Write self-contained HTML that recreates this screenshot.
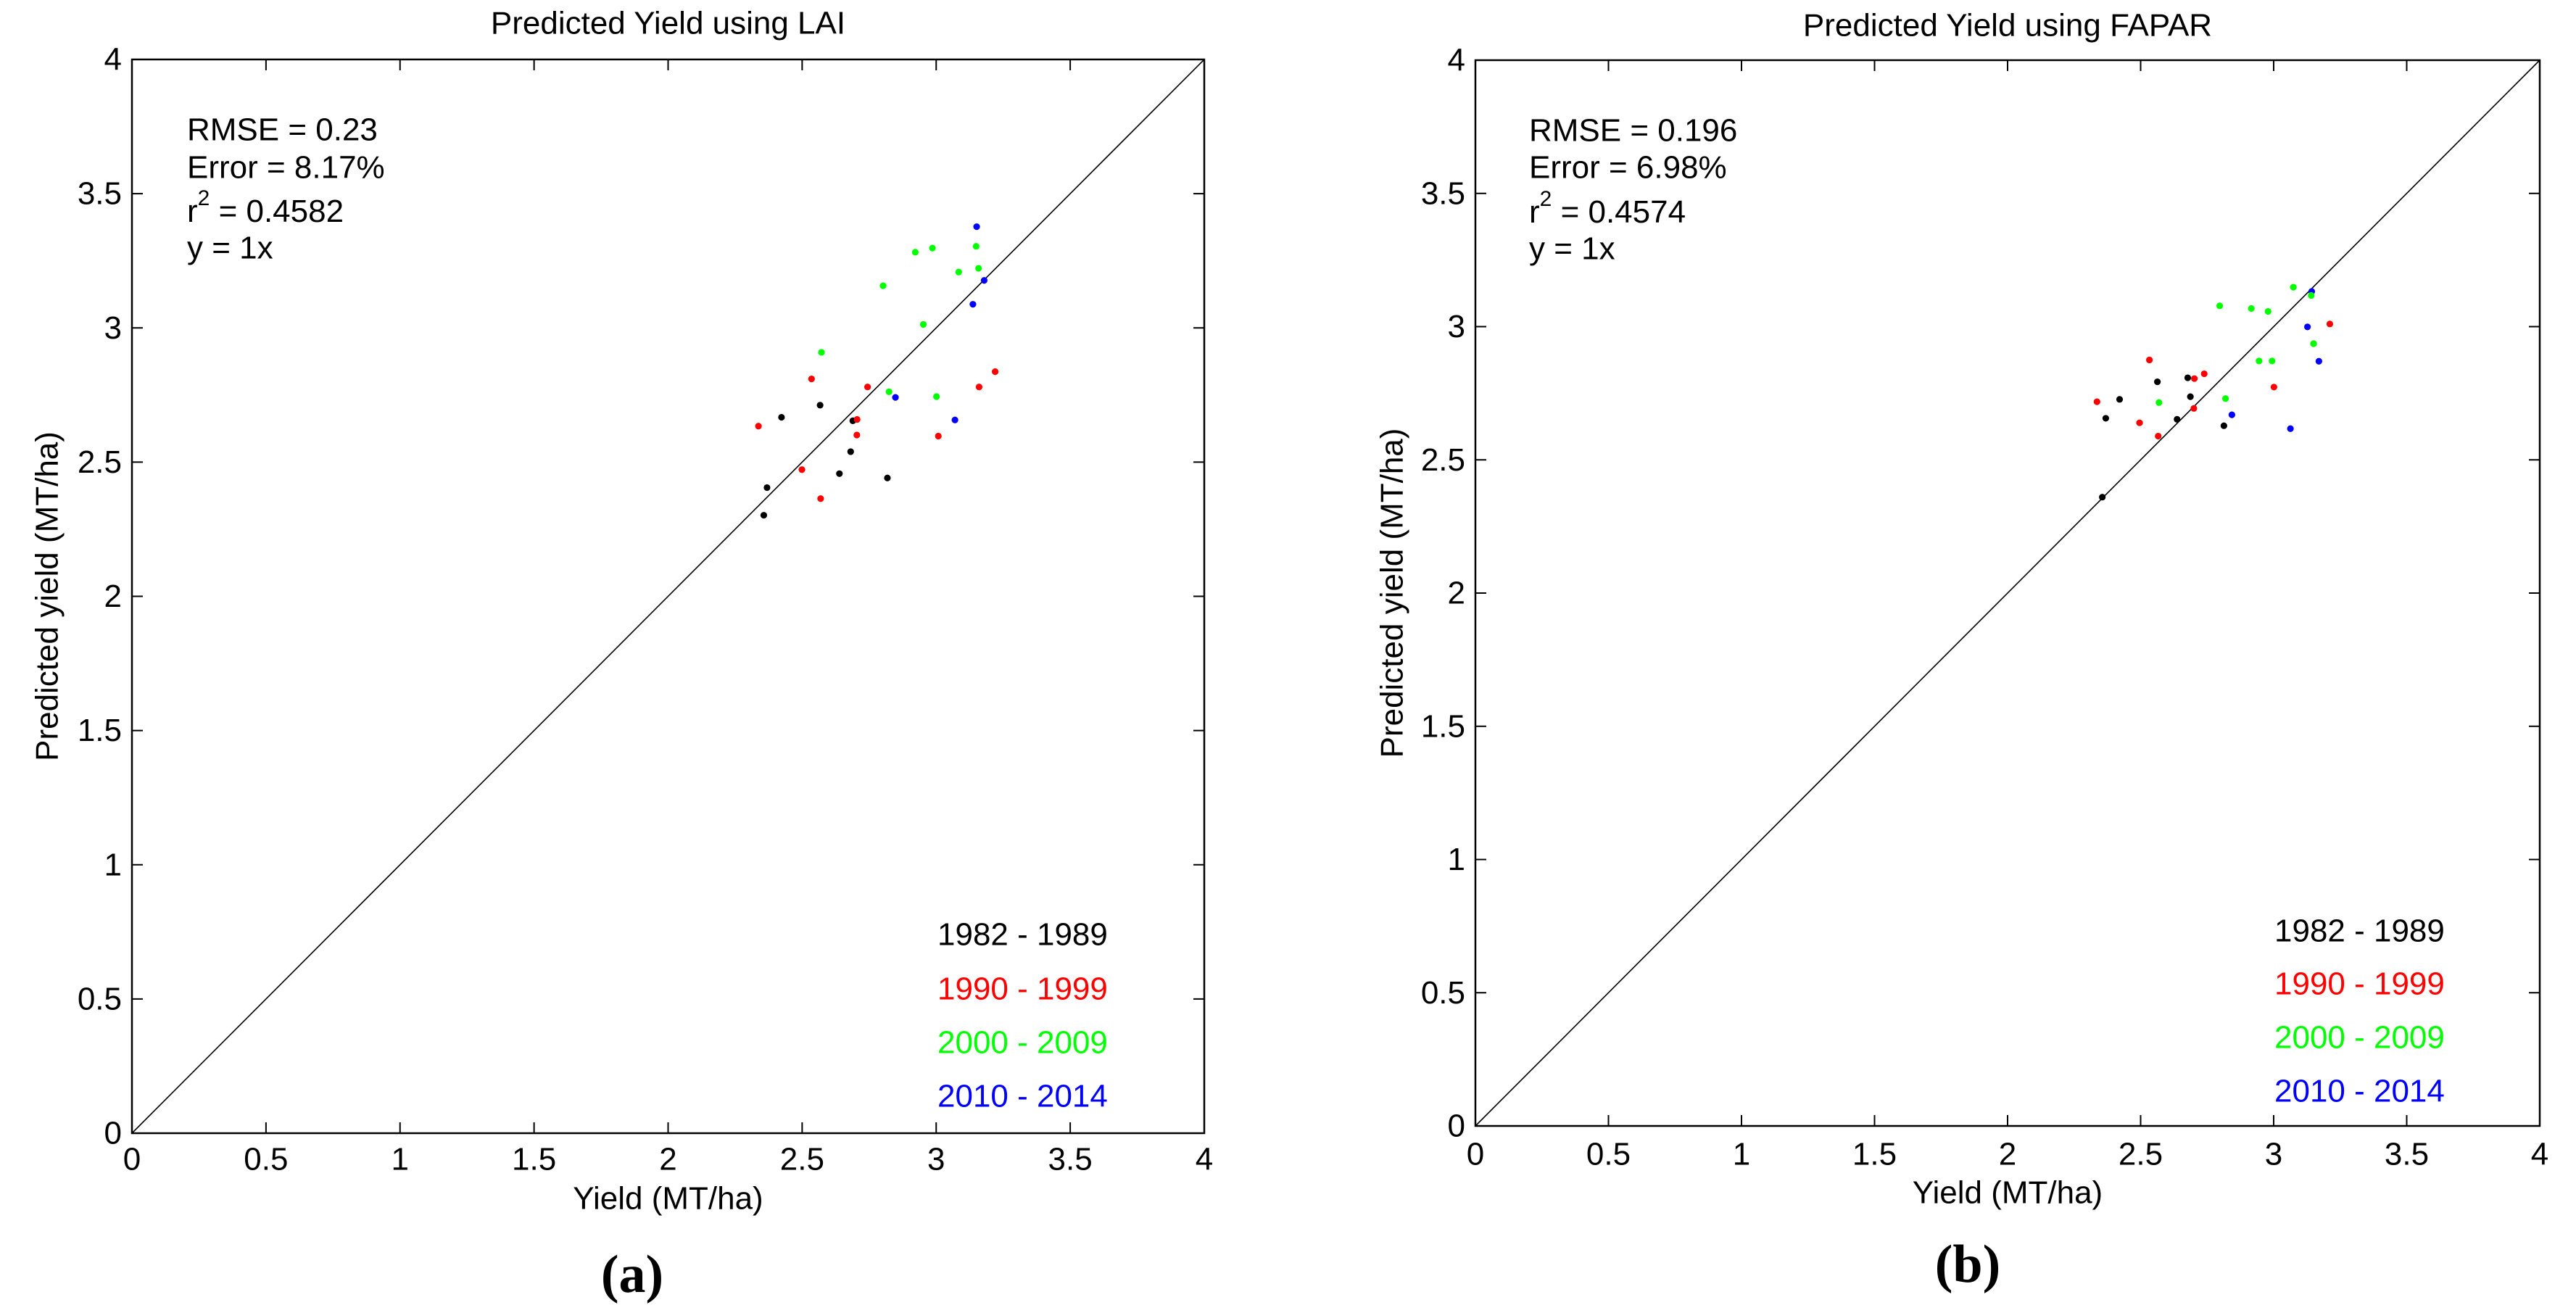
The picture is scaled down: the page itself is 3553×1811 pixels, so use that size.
<!DOCTYPE html>
<html><head><meta charset="utf-8"><style>
html,body{margin:0;padding:0;background:#fff;}
svg{display:block;font-family:"Liberation Sans",Arial,sans-serif;}
</style></head><body>
<svg id="fig" width="3553" height="1811" viewBox="0 0 3553 1811" xmlns="http://www.w3.org/2000/svg"></svg>
<script>
const NS="http://www.w3.org/2000/svg";
const groupLabels=["1982 - 1989","1990 - 1999","2000 - 2009","2010 - 2014"];
const groupColors=["#000000","#ff0000","#00ff00","#0000ff"];
const tickValues=[0,0.5,1,1.5,2,2.5,3,3.5,4];
const tickLabels=["0","0.5","1","1.5","2","2.5","3","3.5","4"];
// Panel (a) LAI: [group, observed, predicted]
const laiGroup=[3,2,2,2,2,2,3,2,3,2,2,1,1,2,3,2,1,1,0,0,1,0,1,1,3,1,0,1,0,0,0,1,0];
const laiObs=[3.151,2.922,2.986,3.149,3.158,3.084,3.179,2.802,3.137,2.952,2.572,2.535,2.744,2.824,2.848,3.001,3.220,3.160,2.567,2.423,2.337,2.689,2.705,2.704,3.070,3.008,2.681,2.499,2.639,2.818,2.369,2.569,2.357];
const laiPred=[3.377,3.282,3.297,3.304,3.222,3.208,3.177,3.157,3.088,3.013,2.909,2.810,2.780,2.762,2.741,2.744,2.837,2.780,2.712,2.667,2.634,2.654,2.659,2.601,2.657,2.597,2.539,2.472,2.457,2.441,2.405,2.364,2.302];
// Panel (b) FAPAR
const fapGroup=[2,3,2,2,2,2,1,3,1,2,3,2,2,1,1,0,1,0,1,0,1,0,2,2,1,3,0,0,1,0,3,1,0];
const fapObs=[3.074,3.143,3.141,2.797,2.916,2.979,3.211,3.127,3.150,3.150,3.170,2.945,2.994,2.533,2.739,2.677,2.702,2.563,3.001,2.687,2.336,2.421,2.569,2.819,2.700,2.843,2.369,2.637,2.496,2.813,3.063,2.566,2.356];
const fapPred=[3.148,3.132,3.117,3.078,3.068,3.057,3.010,2.999,2.936,2.936,2.870,2.871,2.871,2.875,2.823,2.808,2.805,2.793,2.773,2.737,2.718,2.727,2.715,2.730,2.693,2.669,2.656,2.652,2.639,2.628,2.617,2.589,2.360];

const svg=document.getElementById('fig');
function el(tag,attrs,parent,text){const e=document.createElementNS(NS,tag);for(const k in attrs)e.setAttribute(k,attrs[k]);if(text!==undefined)e.textContent=text;(parent||svg).appendChild(e);return e;}

function panel(cfg){
  const g=el('g',{});
  
  
  const L=cfg.x0,R=cfg.x1,T=cfg.y0,B=cfg.y1;
  const sx=v=>L+(R-L)*v/4, sy=v=>B-(B-T)*v/4;
  const t=el('text',{x:(L+R)/2,y:cfg.titleY,'font-size':44,'text-anchor':'middle','dominant-baseline':'central'},g,cfg.title);
  
  const d=el('line',{x1:sx(0),y1:sy(0),x2:sx(4),y2:sy(4),stroke:'#000','stroke-width':1.6},g);
  
  tickValues.forEach((v,i)=>{
    const x=sx(v),y=sy(v);
    el('line',{x1:x,y1:B,x2:x,y2:B-15,stroke:'#000','stroke-width':2},g);
    el('line',{x1:x,y1:T,x2:x,y2:T+15,stroke:'#000','stroke-width':2},g);
    el('line',{x1:L,y1:y,x2:L+15,y2:y,stroke:'#000','stroke-width':2},g);
    el('line',{x1:R,y1:y,x2:R-15,y2:y,stroke:'#000','stroke-width':2},g);
    const xl=el('text',{x:x,y:cfg.xTickY,'font-size':44,'text-anchor':'middle','dominant-baseline':'central'},g,tickLabels[i]);
    
    const yl=el('text',{x:L-14,y:y,'font-size':44,'text-anchor':'end','dominant-baseline':'central'},g,tickLabels[i]);
    
  });
  const fr=el('rect',{x:L,y:T,width:R-L,height:B-T,fill:'none',stroke:'#000','stroke-width':2.5},g);
  
  cfg.obs.forEach((o,i)=>{
    const c=el('circle',{cx:sx(o),cy:sy(cfg.pred[i]),r:4.6,fill:groupColors[cfg.grp[i]]},g);
    
    
  });
  const xa=el('text',{x:(L+R)/2,y:cfg.xLabY,'font-size':44,'text-anchor':'middle','dominant-baseline':'central'},g,'Yield (MT/ha)');
  
  const ya=el('text',{x:0,y:0,'font-size':44,'text-anchor':'middle','dominant-baseline':'central',transform:`translate(${cfg.yLabX},${(T+B)/2}) rotate(-90)`},g,'Predicted yield (MT/ha)');
  
  const sy0=cfg.statsY;
  const s1=el('text',{x:cfg.statsX,y:sy0[0],'font-size':44,'dominant-baseline':'central'},g,cfg.stats[0]);
  
  const s2=el('text',{x:cfg.statsX,y:sy0[1],'font-size':44,'dominant-baseline':'central'},g,cfg.stats[1]);
  
  const s3=el('text',{x:cfg.statsX,y:sy0[2],'font-size':44,'dominant-baseline':'central'},g);
  
  el('tspan',{},s3,'r');
  el('tspan',{dy:-18,'font-size':30},s3,'2');
  el('tspan',{dy:18},s3,' = '+cfg.stats[2]);
  const s4=el('text',{x:cfg.statsX,y:sy0[3],'font-size':44,'dominant-baseline':'central'},g,'y = 1x');
  
  groupLabels.forEach((lab,i)=>{
    const le=el('text',{x:cfg.legX,y:cfg.legY[i],'font-size':44,fill:groupColors[i],'dominant-baseline':'central'},g,lab);
    
    
  });
  const pl=el('text',{x:cfg.panelX,y:cfg.panelY,'font-size':74,'font-weight':'bold','text-anchor':'middle','dominant-baseline':'central','font-family':'"Liberation Serif",serif'},g,cfg.panelLabel);
  
}

panel({name:'lai-panel',x0:182,x1:1661,y0:82,y1:1563,title:'Predicted Yield using LAI',titleY:32,xTickY:1599,xLabY:1653,yLabX:65,
  statsX:258,statsY:[179,231,291,342],stats:['RMSE = 0.23','Error = 8.17%','0.4582'],legX:1293,legY:[1289,1364,1438,1512],
  panelX:872,panelY:1758,panelLabel:'(a)',grp:laiGroup,obs:laiObs,pred:laiPred});
panel({name:'fapar-panel',x0:2035,x1:3503,y0:83,y1:1553,title:'Predicted Yield using FAPAR',titleY:35,xTickY:1592,xLabY:1645,yLabX:1920,
  statsX:2109,statsY:[180,231,292,343],stats:['RMSE = 0.196','Error = 6.98%','0.4574'],legX:3137,legY:[1284,1357,1431,1505],
  panelX:2714,panelY:1744,panelLabel:'(b)',grp:fapGroup,obs:fapObs,pred:fapPred});
</script>
</body></html>
